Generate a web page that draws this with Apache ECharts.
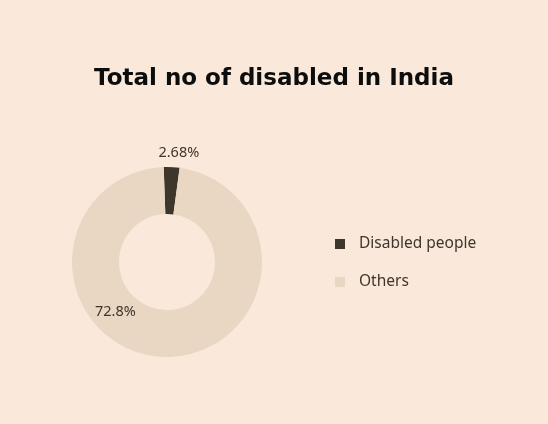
<!DOCTYPE html>
<html><head><meta charset="utf-8">
<script src="https://cdn.jsdelivr.net/npm/echarts@6/dist/echarts.min.js"></script>
<style>html,body{margin:0;padding:0;background:#FAE9DA;}#c{width:548px;height:424px;}</style>
</head><body><div id="c"></div>
<script>
const categories = ['Disabled people', 'Others'];
const values = [2.68, 97.32];
const labelTexts = ['2.68%', '72.8%'];
const colors = ['#3E352B', '#EAD7C3'];

const chart = echarts.init(document.getElementById('c'));
chart.setOption({
  backgroundColor: '#FAE9DA',
  title: {
    text: 'Total no of disabled in India',
    left: 'center', top: 63,
    textStyle: {fontFamily: 'DejaVu Sans', fontWeight: 'bold', fontSize: 23, color: '#0d0d0d'}
  },
  legend: {
    orient: 'vertical', left: 330, top: 231,
    itemWidth: 10, itemHeight: 10, itemGap: 22, icon: 'rect',
    textStyle: {fontFamily: 'Noto Sans', fontSize: 15.5, color: '#3E352B', padding: [0,0,0,9]},
    data: categories
  },
  series: [{
    type: 'pie',
    center: [167, 262],
    radius: [48, 95],
    startAngle: 92,
    avoidLabelOverlap: false,
    labelLine: {show: false},
    data: categories.map((n, i) => ({
      name: n, value: values[i],
      itemStyle: {color: colors[i]},
      label: {
        show: true,
        position: i === 0 ? 'outside' : 'inside',
        formatter: labelTexts[i],
        fontFamily: 'Noto Sans', fontSize: 14.5, color: '#3E352B'
      }
    })),
    labelLayout: function (p) {
      if (p.dataIndex === 1) return {dx: -48, dy: -25};
      return {dx: -49, dy: 1};
    }
  }]
});
</script></body></html>
